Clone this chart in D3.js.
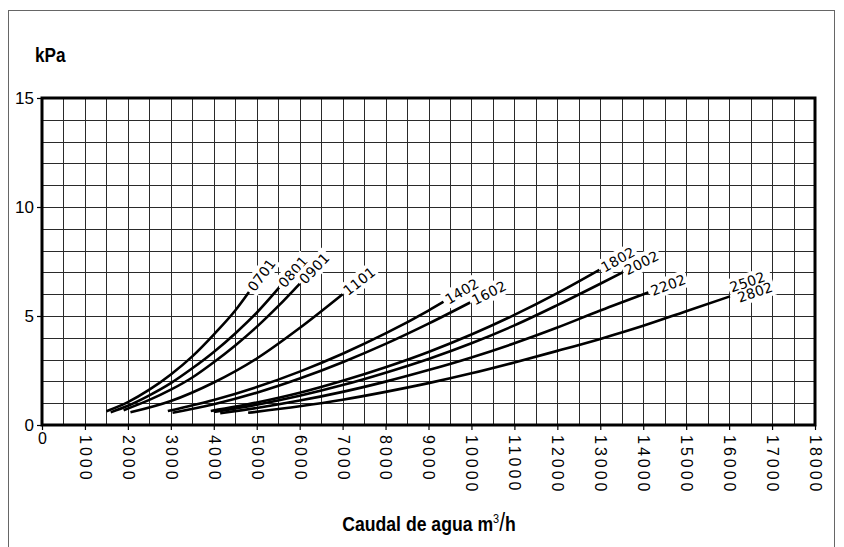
<!DOCTYPE html>
<html>
<head>
<meta charset="utf-8">
<script src="https://cdn.jsdelivr.net/npm/d3@7"></script>
<style>
  html, body { margin: 0; padding: 0; background: #fff; }
  svg { display: block; }
</style>
</head>
<body>
<svg id="chart" width="844" height="547"></svg>
<script>
// Flow axis (m3/h) and pressure-drop axis (kPa)
const xTicks = [0, 1000, 2000, 3000, 4000, 5000, 6000, 7000, 8000, 9000, 10000,
                11000, 12000, 13000, 14000, 15000, 16000, 17000, 18000];
const yTicks = [0, 5, 10, 15];

// Model names for each curve (the last curve serves two models)
const models = [["0701"], ["0801"], ["0901"], ["1101"], ["1402"], ["1602"],
                ["1802"], ["2002"], ["2202"], ["2502", "2802"]];

// Pressure drop curves: [flow m3/h, kPa]
const c0701 = [[1500,0.63],[2000,1.05],[2500,1.62],[3000,2.32],[3500,3.15],[4000,4.15],[4500,5.25],[4820,6.1]];
const c0801 = [[1600,0.58],[2000,0.88],[2500,1.36],[3000,1.92],[3500,2.6],[4000,3.35],[4500,4.2],[5000,5.15],[5520,6.3]];
const c0901 = [[1900,0.68],[2500,1.15],[3000,1.62],[3500,2.18],[4000,2.88],[4500,3.65],[5000,4.5],[5500,5.45],[6000,6.48]];
const c1101 = [[2060,0.58],[3000,1.1],[4000,1.95],[5000,3.05],[6000,4.45],[7000,6.0]];
const c1402 = [[2930,0.64],[4000,1.15],[5000,1.74],[6000,2.45],[7000,3.27],[8000,4.2],[9000,5.25],[9350,5.65]];
const c1602 = [[3040,0.56],[4000,0.95],[5000,1.48],[6000,2.13],[7000,2.88],[8000,3.72],[9000,4.65],[9970,5.62]];
const c1802 = [[3930,0.64],[5000,1.03],[6000,1.48],[7000,2.03],[8000,2.65],[9000,3.35],[10000,4.15],[11000,5.05],[12000,6.05],[12980,7.12]];
const c2002 = [[4000,0.6],[5000,0.93],[6000,1.34],[7000,1.83],[8000,2.4],[9000,3.03],[10000,3.75],[11000,4.57],[12000,5.5],[13000,6.48],[13520,7.0]];
const c2202 = [[4150,0.54],[5000,0.78],[6000,1.12],[7000,1.52],[8000,1.99],[9000,2.52],[10000,3.1],[11000,3.75],[12000,4.47],[13000,5.25],[14120,6.08]];
const c2502 = [[4800,0.56],[6000,0.86],[7000,1.16],[8000,1.52],[9000,1.92],[10000,2.37],[11000,2.87],[12000,3.4],[13000,3.95],[14000,4.55],[15000,5.22],[16020,5.9]];

const curves = [c0701, c0801, c0901, c1101, c1402, c1602, c1802, c2002, c2202, c2502];

const svg = d3.select("#chart");

// outer frame
svg.append("rect")
  .attr("x", 8.5).attr("y", 10.5)
  .attr("width", 826).attr("height", 560)
  .attr("fill", "none").attr("stroke", "#666").attr("stroke-width", 1);

const x = d3.scaleLinear().domain([0, 18000]).range([42, 815]);
const y = d3.scaleLinear().domain([0, 15]).range([425, 98]);

// grid: every 500 m3/h and every 1 kPa
const grid = svg.append("g").attr("stroke", "#2a2a2a").attr("stroke-width", 1).attr("shape-rendering", "crispEdges");
grid.selectAll("line.v").data(d3.range(500, 18000, 500)).join("line")
  .attr("class", "v")
  .attr("x1", d => Math.round(x(d)) + 0.5).attr("x2", d => Math.round(x(d)) + 0.5)
  .attr("y1", y(15)).attr("y2", y(0));
grid.selectAll("line.h").data(d3.range(1, 15, 1)).join("line")
  .attr("class", "h")
  .attr("y1", d => Math.round(y(d)) + 0.5).attr("y2", d => Math.round(y(d)) + 0.5)
  .attr("x1", x(0)).attr("x2", x(18000));

// plot frame
svg.append("rect")
  .attr("x", x(0)).attr("y", y(15))
  .attr("width", x(18000) - x(0)).attr("height", y(0) - y(15))
  .attr("fill", "none").attr("stroke", "#000").attr("stroke-width", 3);

// y axis
const yAxis = d3.axisLeft(y).tickValues(yTicks).tickSize(5).tickPadding(3).tickFormat(d3.format("d"));
const gy = svg.append("g").attr("transform", `translate(${x(0)},0)`).call(yAxis);
gy.select(".domain").remove();
gy.selectAll(".tick line").attr("stroke", "#000").attr("stroke-width", 1.2);
gy.selectAll(".tick text")
  .attr("font-family", "Liberation Sans, Arial, sans-serif")
  .attr("font-size", 17).attr("fill", "#000");

// x axis with vertical labels
const xAxis = d3.axisBottom(x).tickValues(xTicks).tickSize(5).tickFormat(d3.format("d"));
const gx = svg.append("g").attr("transform", `translate(0,${y(0)})`).call(xAxis);
gx.select(".domain").remove();
gx.selectAll(".tick line").attr("stroke", "#000").attr("stroke-width", 1.2);
gx.selectAll(".tick text")
  .attr("font-family", "Liberation Sans, Arial, sans-serif")
  .attr("font-size", 16).attr("fill", "#000")
  .each(function(d) {
    const t = d3.select(this);
    if (d === 0) {
      t.attr("y", 8).attr("dy", "0.71em").attr("text-anchor", "middle");
    } else {
      t.attr("transform", "rotate(90)")
        .attr("x", 10).attr("y", 0).attr("dy", "0.35em")
        .attr("text-anchor", "start")
        .attr("letter-spacing", 3);
    }
  });

// axis titles (bold, horizontally condensed)
svg.append("text")
  .attr("transform", "translate(35,62) scale(0.86,1)")
  .attr("font-family", "Liberation Sans, Arial, sans-serif")
  .attr("font-weight", "bold").attr("font-size", 20)
  .text("kPa");

const xt = svg.append("text")
  .attr("transform", "translate(429,531) scale(0.84,1)")
  .attr("text-anchor", "middle")
  .attr("font-family", "Liberation Sans, Arial, sans-serif")
  .attr("font-weight", "bold").attr("font-size", 21);
xt.append("tspan").text("Caudal de agua m");
xt.append("tspan").attr("font-size", 13).attr("font-weight", "normal").attr("dy", -8).text("3");
xt.append("tspan").attr("dy", 8).attr("font-weight", "normal").attr("font-size", 25).text("/");
xt.append("tspan").text("h");

// curves
const line = d3.line().x(d => x(d[0])).y(d => y(d[1])).curve(d3.curveMonotoneX);
svg.append("g").selectAll("path").data(curves).join("path")
  .attr("d", line)
  .attr("fill", "none").attr("stroke", "#000").attr("stroke-width", 2.6)
  .attr("stroke-linecap", "butt");

// end-of-curve labels, aligned to the curve tangent
const labels = svg.append("g");
curves.forEach((c, i) => {
  const p1 = c[c.length - 1], p0 = c[c.length - 2];
  const ex = x(p1[0]), ey = y(p1[1]);
  let ang = Math.atan2(y(p1[1]) - y(p0[1]), x(p1[0]) - x(p0[0])) * 180 / Math.PI;
  ang = Math.max(ang, -54);
  const g = labels.append("g").attr("transform", `translate(${ex},${ey}) rotate(${ang})`);
  const names = models[i];
  const lh = 12;
  const bg = g.append("rect").attr("fill", "#fff");
  const txt = g.append("text")
    .attr("font-family", "DejaVu Sans, sans-serif")
    .attr("font-size", 14).attr("letter-spacing", 0.2)
    .attr("fill", "#000");
  names.forEach((n, k) => {
    txt.append("tspan").attr("x", 3 + k * 4).attr("y", (k - (names.length - 1) / 2) * lh + 5 - (names.length - 1) * 2).text(n);
  });
  const bb = txt.node().getBBox();
  bg.attr("x", bb.x - 2).attr("y", bb.y - 1).attr("width", bb.width + 4).attr("height", bb.height + 2);
});
</script>
</body>
</html>
